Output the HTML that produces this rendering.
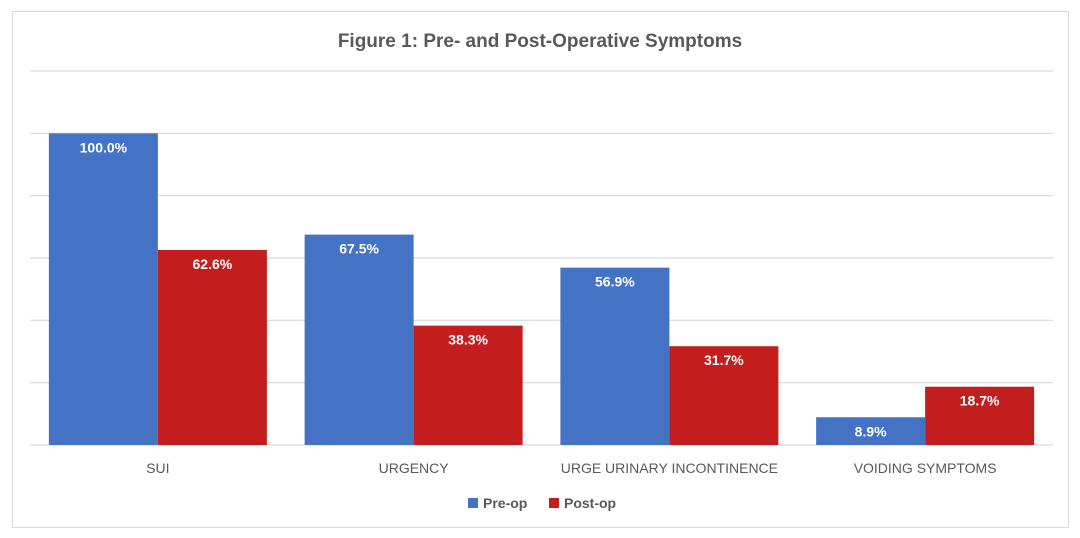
<!DOCTYPE html>
<html><head><meta charset="utf-8"><style>
body{margin:0;background:#fff;font-family:"Liberation Sans",Calibri,sans-serif}
svg{display:block}
</style></head><body>
<svg width="1080" height="538" id="c">
<rect x="12.5" y="11.5" width="1056" height="516" fill="#fff" stroke="#d9d9d9"/>
<text x="540" y="47" text-anchor="middle" font-size="19" font-weight="bold" fill="#595959">Figure 1: Pre- and Post-Operative Symptoms</text>
<g id="grid"></g><g id="bars"></g><g id="labels"></g>
<g>
<rect x="468" y="498" width="10" height="10" fill="#4472c4"/>
<text x="483" y="508" font-size="14" font-weight="bold" fill="#595959">Pre-op</text>
<rect x="549" y="498" width="10" height="10" fill="#c00000" style="fill:#c21e1e"/>
<text x="564" y="508" font-size="14" font-weight="bold" fill="#595959">Post-op</text>
</g>
</svg>
<script>
const categories=["SUI","URGENCY","URGE URINARY INCONTINENCE","VOIDING SYMPTOMS"];
const preOp=[100.0,67.5,56.9,8.9];
const postOp=[62.6,38.3,31.7,18.7];
const ticks=[0,20,40,60,80,100,120];
const NS="http://www.w3.org/2000/svg";
const x0=30,x1=1053,yBase=445,yTop=71,vMax=120;
const y=v=>yBase-(yBase-yTop)*v/vMax;
const band=(x1-x0)/categories.length, bw=109;
function mk(t,a,p){const e=document.createElementNS(NS,t);for(const k in a)e.setAttribute(k,a[k]);p.appendChild(e);return e;}
const g=document.getElementById('grid'),b=document.getElementById('bars'),l=document.getElementById('labels');
ticks.forEach(t=>{const ln=mk('line',{x1:x0,x2:x1,y1:y(t),y2:y(t),stroke:'#d9d9d9','stroke-width':1.2},g);

});
categories.forEach((c,i)=>{
 const cx=x0+band*(i+0.5);
 [[preOp,'#4472c4','pre-op',-1],[postOp,'#c21e1e','post-op',0]].forEach(([arr,col,nm,off])=>{
  const v=arr[i],bx=cx+off*bw;
  const r=mk('rect',{x:bx,y:y(v),width:bw,height:yBase-y(v),fill:col},b);
  
  
  const t=mk('text',{x:bx+bw/2,y:y(v)+19,'text-anchor':'middle','font-size':14,'font-weight':'bold',fill:'#fff'},l);
  t.textContent=v.toFixed(1)+'%';
  
  
 });
 const t=mk('text',{x:cx,y:473,'text-anchor':'middle','font-size':14,fill:'#595959'},l);
 t.textContent=c;
 
 
});
</script>
</body></html>
